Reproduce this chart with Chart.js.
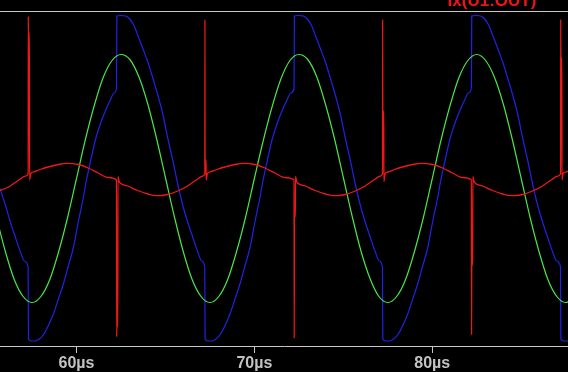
<!DOCTYPE html>
<html>
<head>
<meta charset="utf-8">
<script src="https://cdn.jsdelivr.net/npm/chart.js@4.4.1/dist/chart.umd.min.js"></script>
<style>
  html, body { margin: 0; padding: 0; background: #000; overflow: hidden; }
  canvas { display: block; }
</style>
</head>
<body>
<canvas id="c" width="568" height="372"></canvas>
<script>
// ---- data ----
const xTickValues = [60, 70, 80];          // µs
const traceTitle = 'Ix(U1:OUT)';

// blue trace: time (µs) / value
const blueTime = [55.70,56.00,56.28,56.56,56.85,57.07,57.28,
  57.30,57.46,57.68,57.91,58.13,58.41,58.70,58.98,59.26,59.54,59.82,60.10,60.38,60.55,60.78,61.06,61.34,61.62,61.90,62.12,62.25,
  62.27,62.49,62.77,62.99,63.22,63.44,63.72,64.01,64.29,64.57,64.85,65.13,65.41,65.69,65.97,66.25,66.53,66.82,67.04,67.21,
  67.23,67.39,67.61,67.84,68.06,68.34,68.63,68.91,69.19,69.47,69.75,70.03,70.31,70.48,70.71,70.99,71.27,71.55,71.83,72.05,72.23,
  72.25,72.47,72.75,72.97,73.20,73.42,73.70,73.99,74.27,74.55,74.83,75.11,75.39,75.67,75.95,76.23,76.51,76.80,77.02,77.20,
  77.22,77.38,77.60,77.83,78.05,78.33,78.62,78.90,79.18,79.46,79.74,80.02,80.30,80.47,80.70,80.98,81.26,81.54,81.82,82.04,82.20,
  82.22,82.44,82.72,82.94,83.17,83.39,83.67,83.96,84.24,84.52,84.80,85.08,85.36,85.64,85.92,86.20,86.48,86.77,86.99,87.21,
  87.23,87.39,87.61,87.84,88.06];
const blueValue = [-1.0,-2.65,-4.35,-5.85,-7.35,-8.25,-8.85,
  -16.05,-16.25,-16.25,-16.05,-15.65,-14.75,-13.55,-12.05,-10.55,-8.75,-6.95,-4.35,-1.95,-0.25,1.65,3.85,5.45,6.75,7.85,8.55,9.05,
  16.25,16.3,16.25,15.95,15.35,14.35,13.05,11.65,10.05,8.35,6.45,4.05,1.85,-0.55,-2.65,-4.35,-5.85,-7.35,-8.25,-8.85,
  -16.05,-16.25,-16.25,-16.05,-15.65,-14.75,-13.55,-12.05,-10.55,-8.75,-6.95,-4.35,-1.95,-0.25,1.65,3.85,5.45,6.75,7.85,8.55,9.05,
  16.25,16.3,16.25,15.95,15.35,14.35,13.05,11.65,10.05,8.35,6.45,4.05,1.85,-0.55,-2.65,-4.35,-5.85,-7.35,-8.25,-8.85,
  -16.05,-16.25,-16.25,-16.05,-15.65,-14.75,-13.55,-12.05,-10.55,-8.75,-6.95,-4.35,-1.95,-0.25,1.65,3.85,5.45,6.75,7.85,8.55,9.05,
  16.25,16.3,16.25,15.95,15.35,14.35,13.05,11.65,10.05,8.35,6.45,4.05,1.85,-0.55,-2.65,-4.35,-5.85,-7.35,-8.25,-8.85,
  -16.05,-16.25,-16.25,-16.05,-15.65];

// green trace
const greenTime = [55.5,56.0,56.5,57.0,57.5,58.0,58.5,59.0,59.5,60.0,60.5,61.0,61.5,62.0,62.5,63.0,63.5,64.0,64.5,65.0,
  65.5,66.0,66.5,67.0,67.5,68.0,68.5,69.0,69.5,70.0,70.5,71.0,71.5,72.0,72.5,73.0,73.5,74.0,74.5,75.0,
  75.5,76.0,76.5,77.0,77.5,78.0,78.5,79.0,79.5,80.0,80.5,81.0,81.5,82.0,82.5,83.0,83.5,84.0,84.5,85.0,
  85.5,86.0,86.5,87.0,87.5,88.0];
const greenValue = [-3.9,-7.3,-10.1,-11.8,-12.4,-11.8,-10.1,-7.3,-3.9,0.0,3.9,7.3,10.1,11.8,12.4,11.9,10.2,7.5,4.0,0.1,
  -3.8,-7.3,-10.1,-11.8,-12.4,-11.8,-10.1,-7.3,-3.9,0.0,3.8,7.2,10.0,11.8,12.4,11.9,10.2,7.4,4.0,0.1,
  -3.8,-7.3,-10.0,-11.8,-12.4,-11.8,-10.1,-7.3,-3.9,0.0,3.9,7.3,10.1,11.8,12.4,11.8,10.1,7.4,3.9,0.0,
  -3.9,-7.3,-10.1,-11.8,-12.4,-11.8];

// red trace Ix(U1:OUT)
const redTime = [55.70,56.00,56.28,56.56,56.85,57.07,57.285,
  57.29,57.30,57.355,57.36,57.43,
  57.57,57.96,58.41,58.98,59.45,60.10,60.66,61.22,61.79,
  62.25,62.26,62.27,62.325,62.33,62.40,
  62.45,62.88,63.44,64.01,64.47,65.13,65.69,66.25,66.53,66.82,67.04,
  67.215,
  67.22,67.23,67.285,67.29,67.36,
  67.50,67.89,68.34,68.91,69.38,70.03,70.59,71.15,71.72,
  72.23,72.24,72.25,72.305,72.31,72.38,
  72.43,72.86,73.42,73.99,74.45,75.11,75.67,76.23,76.51,76.80,77.02,
  77.205,
  77.21,77.22,77.275,77.28,77.35,
  77.49,77.88,78.33,78.90,79.37,80.02,80.58,81.14,81.71,
  82.20,82.21,82.22,82.275,82.28,82.35,
  82.40,82.83,83.39,83.96,84.42,85.08,85.64,86.20,86.48,86.77,86.99,
  87.215,
  87.22,87.23,87.285,87.29,87.36,
  87.50,87.89];
const redValue = [-1.2,-1.0,-0.75,-0.4,-0.05,0.2,0.45,
  16.2,14.55,14.55,-0.15,0.5,
  0.65,0.9,1.15,1.4,1.52,1.4,1.05,0.55,0.1,
  -0.15,-15.82,-14.82,-14.82,0.2,-0.3,
  -0.45,-0.75,-1.2,-1.55,-1.72,-1.6,-1.25,-0.75,-0.4,-0.05,0.2,
  0.45,
  15.9,1.85,1.85,-0.15,0.5,
  0.65,0.9,1.15,1.4,1.52,1.4,1.05,0.55,0.1,
  -0.15,-15.98,-3.82,-3.82,0.2,-0.3,
  -0.45,-0.75,-1.2,-1.55,-1.72,-1.6,-1.25,-0.75,-0.4,-0.05,0.2,
  0.45,
  15.9,6.7,6.7,-0.3,0.5,
  0.65,0.9,1.15,1.4,1.52,1.4,1.05,0.55,0.1,
  -0.15,-15.65,-8.65,-8.65,0.2,-0.3,
  -0.45,-0.75,-1.2,-1.55,-1.72,-1.6,-1.25,-0.75,-0.4,-0.05,0.2,
  0.45,
  15.9,12.05,12.05,-0.15,0.5,
  0.65,0.9];

const xMin = 55.70, xMax = 87.63;
const yMin = -16.75, yMax = 16.75;

// ---- build chart ----
const toPts = (ts, vs) => ts.map((t, i) => ({ x: t, y: vs[i] }));

const frame = {
  id: 'frame',
  beforeDraw(chart) {
    const ctx = chart.ctx;
    ctx.save();
    ctx.fillStyle = '#000';
    ctx.fillRect(0, 0, chart.width, chart.height);
    ctx.restore();
  },
  afterDraw(chart) {
    const ctx = chart.ctx, a = chart.chartArea;
    ctx.save();
    ctx.strokeStyle = '#c8c8c8';
    ctx.lineWidth = 1;
    ctx.beginPath();
    ctx.moveTo(0, a.top + 0.5);
    ctx.lineTo(chart.width, a.top + 0.5);
    ctx.stroke();
    ctx.fillStyle = '#f01414';
    ctx.font = 'bold 17px "Liberation Sans", Arial, sans-serif';
    ctx.textAlign = 'center';
    ctx.textBaseline = 'alphabetic';
    ctx.fillText(traceTitle, 492, 6);
    ctx.restore();
  }
};

const common = { pointRadius: 0, fill: false, cubicInterpolationMode: 'monotone' };

new Chart(document.getElementById('c'), {
  type: 'line',
  data: {
    datasets: [
      Object.assign({ label: 'red', data: toPts(redTime, redValue), borderColor: '#ee1818', borderWidth: 1.3 }, common),
      Object.assign({ label: 'green', data: toPts(greenTime, greenValue), borderColor: '#4ae64a', borderWidth: 1.2 }, common),
      Object.assign({ label: 'blue', data: toPts(blueTime, blueValue), borderColor: '#2222e6', borderWidth: 1.2 }, common)
    ]
  },
  options: {
    responsive: false,
    animation: false,
    devicePixelRatio: 1,
    parsing: false,
    layout: { padding: { top: 11, left: 0, right: 0, bottom: 0 } },
    plugins: { legend: { display: false }, tooltip: { enabled: false }, title: { display: false } },
    scales: {
      x: {
        type: 'linear',
        position: 'bottom',
        min: xMin,
        max: xMax,
        offset: false,
        afterBuildTicks(scale) { scale.ticks = xTickValues.map(v => ({ value: v })); },
        afterFit(scale) { scale.height = 26; },
        grid: { display: true, drawOnChartArea: false, drawTicks: true, tickLength: 7, color: '#c8c8c8', lineWidth: 1 },
        border: { display: true, color: '#c8c8c8', width: 1 },
        ticks: {
          color: '#c3c3c3',
          padding: 1,
          maxRotation: 0,
          autoSkip: false,
          font: { family: '"Liberation Sans", Arial, sans-serif', size: 16, weight: 'bold' },
          callback: v => v + 'µs'
        }
      },
      y: { type: 'linear', display: false, min: yMin, max: yMax }
    }
  },
  plugins: [frame]
});
</script>
</body>
</html>
